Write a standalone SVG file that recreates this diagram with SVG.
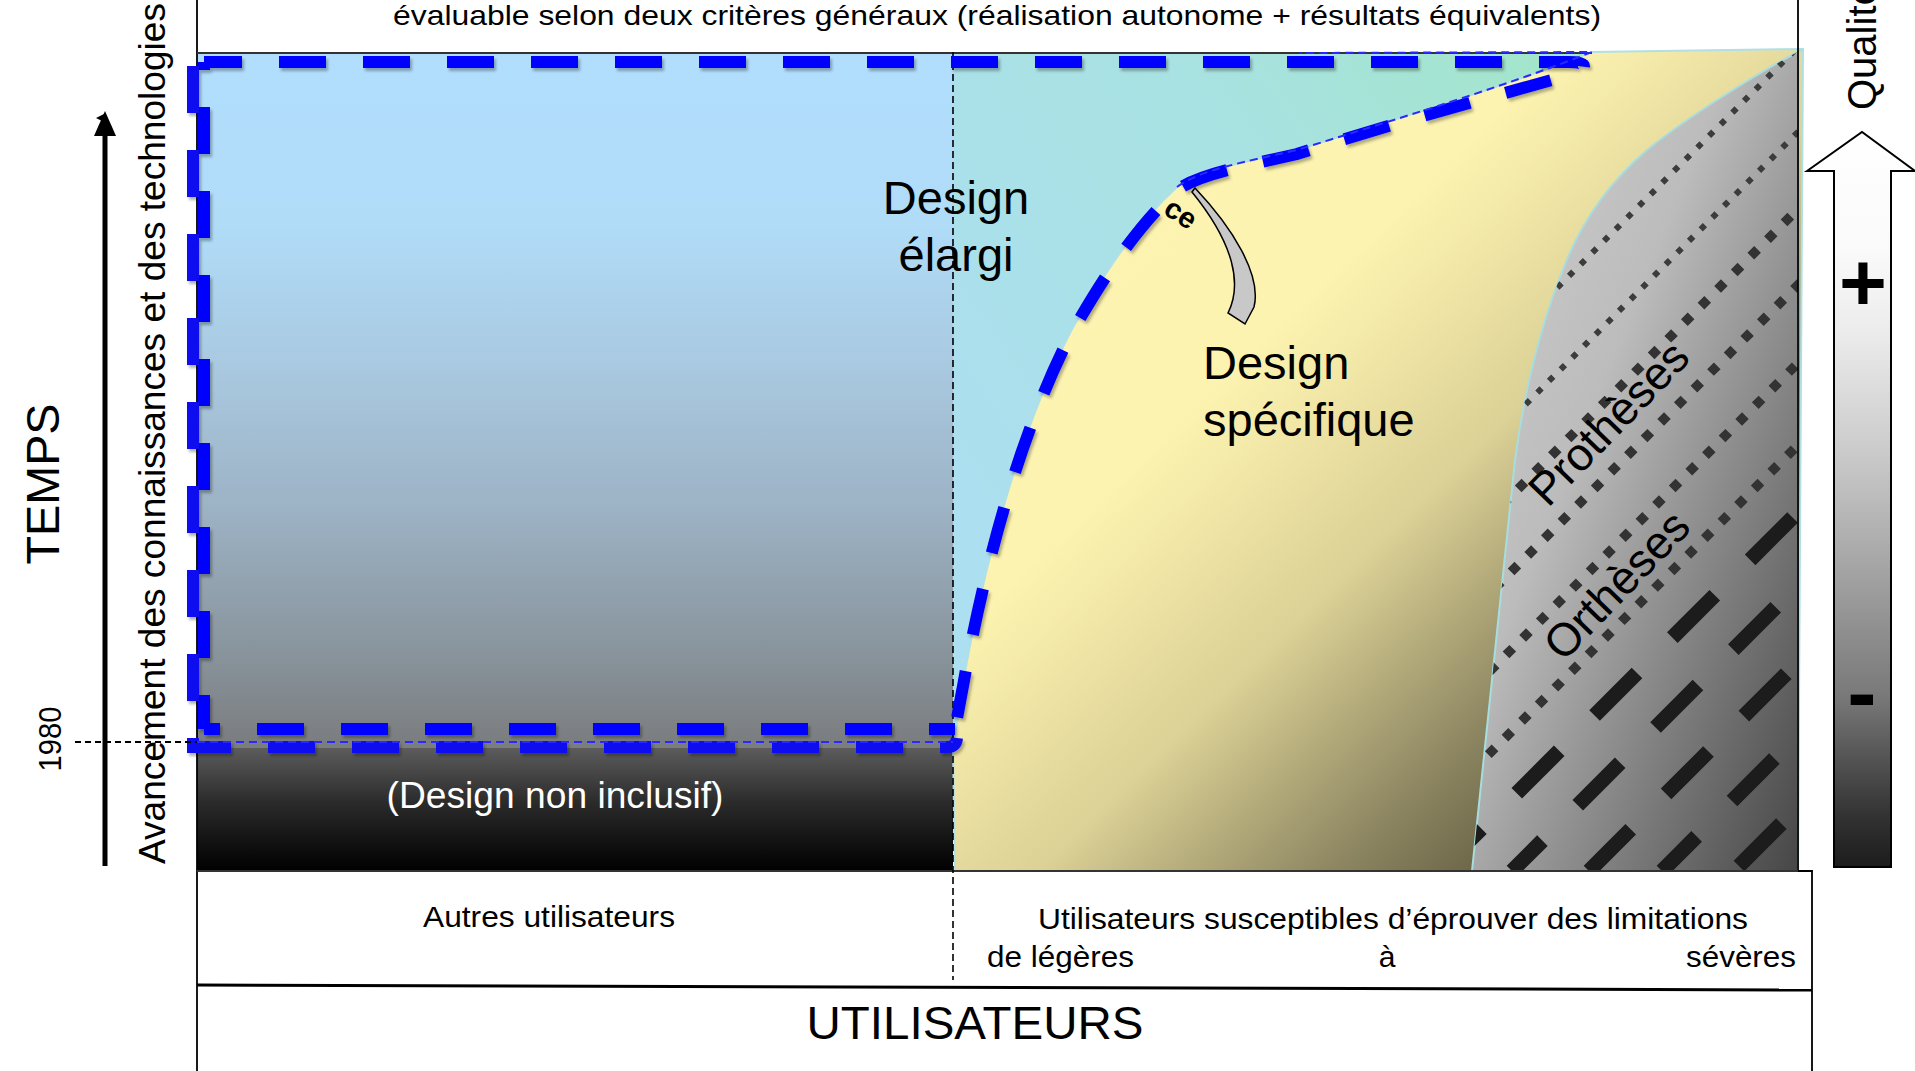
<svg xmlns="http://www.w3.org/2000/svg" width="1915" height="1071" viewBox="0 0 1915 1071">
<style>
text{font-family:"Liberation Sans",Arial,sans-serif;fill:#000}
.frame{fill:none;stroke:#000;stroke-width:1.8}
.bluethick{fill:none;stroke:#0000ff;stroke-width:12;stroke-dasharray:47 37}
.bluethin{fill:none;stroke:#2a2aff;stroke-width:2;stroke-dasharray:8 5}
.dotS{fill:none;stroke:#3c3c3c;stroke-width:6;stroke-dasharray:6 10.5}
.dotL{fill:none;stroke:#333;stroke-width:9.5;stroke-dasharray:9.5 14}
.dash{fill:none;stroke:#1c1c1c;stroke-width:15;stroke-dasharray:60 50}
</style>
<defs>
<linearGradient id="gLeft" gradientUnits="userSpaceOnUse" x1="0" y1="53" x2="0" y2="748">
<stop offset="0" stop-color="#b2defe"/><stop offset="0.25" stop-color="#b0dcf8"/><stop offset="0.45" stop-color="#a9c9e0"/><stop offset="0.65" stop-color="#9db3c6"/><stop offset="0.85" stop-color="#8a969f"/><stop offset="1" stop-color="#7a7c7e"/>
</linearGradient>
<linearGradient id="gDark" gradientUnits="userSpaceOnUse" x1="0" y1="748" x2="0" y2="871">
<stop offset="0" stop-color="#5c5c5c"/><stop offset="0.45" stop-color="#2a2a2a"/><stop offset="1" stop-color="#000"/>
</linearGradient>
<linearGradient id="gCyan" gradientUnits="userSpaceOnUse" x1="953" y1="500" x2="1592" y2="52">
<stop offset="0" stop-color="#acdff0"/><stop offset="0.6" stop-color="#a8e2e0"/><stop offset="1" stop-color="#a2e6c8"/>
</linearGradient>
<linearGradient id="gYellow" x1="0" y1="0" x2="1" y2="1">
<stop offset="0" stop-color="#fdf4b0"/><stop offset="0.36" stop-color="#fdf3b0"/><stop offset="0.55" stop-color="#dcd196"/><stop offset="0.72" stop-color="#8e8762"/><stop offset="0.85" stop-color="#5c573d"/><stop offset="1" stop-color="#4a4530"/>
</linearGradient>
<linearGradient id="gGray" x1="0" y1="0" x2="1" y2="1">
<stop offset="0" stop-color="#d2d2d2"/><stop offset="0.4" stop-color="#bcbcbc"/><stop offset="1" stop-color="#454545"/>
</linearGradient>
<linearGradient id="gArrow" gradientUnits="userSpaceOnUse" x1="0" y1="132" x2="0" y2="867">
<stop offset="0" stop-color="#fff"/><stop offset="0.16" stop-color="#fafafa"/><stop offset="0.27" stop-color="#ececec"/><stop offset="0.43" stop-color="#cccccc"/><stop offset="0.58" stop-color="#a8a8a8"/><stop offset="0.69" stop-color="#8c8c8c"/><stop offset="0.77" stop-color="#787878"/><stop offset="0.85" stop-color="#555"/><stop offset="0.93" stop-color="#333"/><stop offset="1" stop-color="#1c1c1c"/>
</linearGradient>
<clipPath id="cGray"><path d="M1803,49 C1760,72 1690,115 1647,150 C1612,180 1585,215 1566,262 C1543,318 1525,385 1515,460 L1472,871 L1798,871 L1798,52 Z"/></clipPath>
<filter id="sh" x="-5%" y="-5%" width="110%" height="110%"><feDropShadow dx="2" dy="3" stdDeviation="1.5" flood-color="#000" flood-opacity="0.3"/></filter>
<marker id="ah" markerWidth="10" markerHeight="10" refX="5" refY="9" orient="auto" markerUnits="userSpaceOnUse" viewBox="0 0 10 10"><path d="M0,10 L5,0 L10,10 Z" fill="#000"/></marker>
</defs>

<g id="top-caption">
<text x="997" y="25" font-size="28" text-anchor="middle" textLength="1208" lengthAdjust="spacingAndGlyphs">évaluable selon deux critères généraux (réalisation autonome + résultats équivalents)</text>
</g>

<g id="zone-design-elargi-gauche">
<rect x="197" y="53" width="756" height="695" fill="url(#gLeft)"/>
</g>
<g id="zone-design-non-inclusif">
<rect x="197" y="748" width="756" height="123" fill="url(#gDark)"/>
<text x="555" y="808" font-size="37" text-anchor="middle" textLength="337" lengthAdjust="spacingAndGlyphs" style="fill:#fff">(Design non inclusif)</text>
</g>
<g id="zone-design-elargi">
<path d="M953,52 H1592 C1500,88 1400,118 1297,150 C1240,163 1200,170 1177,187 C1135,225 1100,280 1071,331 C1020,430 985,560 963,683 L953,748 Z" fill="url(#gCyan)"/>
</g>
<g id="zone-design-specifique">
<path d="M953,748 L963,683 C985,560 1020,430 1071,331 C1100,280 1135,225 1177,187 C1200,170 1240,163 1297,150 C1400,118 1500,88 1592,52 L1803,49 L1798,871 L955,871 Z" fill="url(#gYellow)" stroke="#b0e0e6" stroke-width="2"/>
</g>
<g id="zone-protheses-ortheses">
<path d="M1803,49 C1760,72 1690,115 1647,150 C1612,180 1585,215 1566,262 C1543,318 1525,385 1515,460 L1472,871 L1798,871 L1798,52 Z" fill="url(#gGray)" stroke="#a8dde0" stroke-width="2"/>
<g clip-path="url(#cGray)">
<path class="dotS" d="M974,871 L1796,49"/>
<path class="dotS" d="M1059,871 L1881,49"/>
<path class="dotL" d="M1136,871 L1958,49"/>
<path class="dotL" d="M1212,871 L2034,49"/>
<path class="dotL" d="M1290,871 L2112,49"/>
<path class="dotL" d="M1372,871 L2194,49"/>
<path class="dash" d="M1439,871 L2261,49"/>
<path class="dash" d="M1512,871 L2334,49" stroke-dashoffset="17"/>
<path class="dash" d="M1589,871 L2411,49" stroke-dashoffset="1"/>
<path class="dash" d="M1662,871 L2484,49" stroke-dashoffset="11"/>
<path class="dash" d="M1734,871 L2556,49" stroke-dashoffset="103"/>
</g>
</g>

<g id="frame">
<path class="frame" d="M197,0 V1071"/>
<path class="frame" d="M1798,0 V871" stroke-width="2"/>
<path d="M197,53 H1592" stroke="#333" stroke-width="2" fill="none"/>
<path d="M197,871 H1813" stroke="#333" stroke-width="2" fill="none"/>
<path class="frame" d="M1798,871 H1812 V1071" stroke-width="2"/>
<path d="M197,985 L1812,990" stroke="#000" stroke-width="3" fill="none"/>
<path d="M953,52 V980" stroke="#000" stroke-width="1.6" stroke-dasharray="7 4" fill="none"/>
</g>

<g id="contour-design-elargi" filter="url(#sh)">
<path class="bluethick" stroke-dashoffset="9" d="M204,62 H1568 Q1592,62 1580,72 C1500,95 1400,121 1297,154 C1240,167 1200,174 1177,190 C1135,228 1100,283 1071,334 C1020,433 985,563 963,686 L955,729"/>
<path class="bluethick" stroke-dashoffset="39" d="M204,62 V729"/>
<path class="bluethick" stroke-dashoffset="31" d="M204,729 H955"/>
<path class="bluethick" style="stroke:#0a0af0" d="M193,66 V747 H948 Q956,747 957,738"/>
</g>
<g id="contour-fin">
<path class="bluethin" d="M197,742 H953"/>
<path class="bluethin" stroke-width="1.5" d="M1177,187 C1200,170 1240,163 1297,150 C1400,118 1500,88 1592,52 L1300,53"/>
</g>

<g id="label-ce">
<text transform="translate(1162,213) rotate(33)" font-size="29" font-weight="bold">ce</text>
<path d="M1195,188 C1232,227 1262,275 1254,307 L1245,324 L1228,313 C1242,285 1235,245 1192,192 Z" fill="#c8c8c8" stroke="#000" stroke-width="1.5"/>
</g>

<g id="label-design-elargi">
<text x="956" y="214" font-size="47" text-anchor="middle">Design</text>
<text x="956" y="271" font-size="47" text-anchor="middle">élargi</text>
</g>
<g id="label-design-specifique">
<text x="1203" y="379" font-size="47">Design</text>
<text x="1203" y="436" font-size="47">spécifique</text>
</g>
<g id="label-protheses">
<text transform="translate(1620,434) rotate(-46)" font-size="46" text-anchor="middle">Prothèses</text>
</g>
<g id="label-ortheses">
<text transform="translate(1628,596) rotate(-46)" font-size="46" text-anchor="middle">Orthèses</text>
</g>

<g id="axe-temps">
<text transform="translate(59,484) rotate(-90)" font-size="47" text-anchor="middle" textLength="161" lengthAdjust="spacingAndGlyphs">TEMPS</text>
<text transform="translate(165,864) rotate(-90)" font-size="37" textLength="861" lengthAdjust="spacingAndGlyphs">Avancement des connaissances et des technologies</text>
<text transform="translate(61,739) rotate(-90)" font-size="31" text-anchor="middle" textLength="65" lengthAdjust="spacingAndGlyphs">1980</text>
</g>

<g id="connectors">
<path d="M105,866 V118" stroke="#000" stroke-width="5" fill="none" marker-end="url(#ah)"/>
<path d="M105,111 L94,136 L116,136 Z" fill="#000"/>
<path d="M75,742 H197" stroke="#000" stroke-width="2" stroke-dasharray="6 4" fill="none"/>
</g>

<g id="axe-qualite">
<path d="M1807,171 L1862,132 L1915,171 L1891,171 L1891,867 L1834,867 L1834,171 Z" fill="url(#gArrow)" stroke="#000" stroke-width="2"/>
<text x="1863" y="310" font-size="82" font-weight="bold" text-anchor="middle">+</text>
<text x="1862" y="722" font-size="88" font-weight="bold" text-anchor="middle">-</text>
<text transform="translate(1876,110) rotate(-90)" font-size="40">Qualité</text>
</g>

<g id="utilisateurs">
<text x="549" y="927" font-size="30" text-anchor="middle" textLength="252" lengthAdjust="spacingAndGlyphs">Autres utilisateurs</text>
<text x="1393" y="929" font-size="30" text-anchor="middle" textLength="710" lengthAdjust="spacingAndGlyphs">Utilisateurs susceptibles d’éprouver des limitations</text>
<text x="987" y="967" font-size="30" textLength="147" lengthAdjust="spacingAndGlyphs">de légères</text>
<text x="1387" y="967" font-size="30" text-anchor="middle">à</text>
<text x="1796" y="967" font-size="30" text-anchor="end" textLength="110" lengthAdjust="spacingAndGlyphs">sévères</text>
<text x="975" y="1039" font-size="47" text-anchor="middle" textLength="337" lengthAdjust="spacingAndGlyphs">UTILISATEURS</text>
</g>
</svg>
